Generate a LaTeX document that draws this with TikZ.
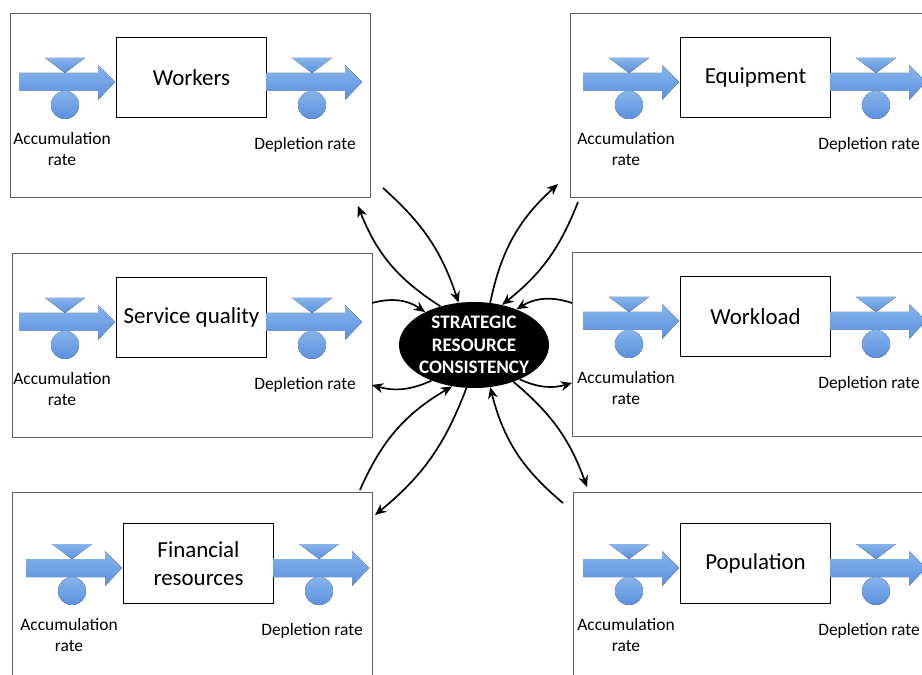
\documentclass[tikz,border=0pt]{standalone}
\usepackage{fontspec}
\setmainfont{Carlito}
\usetikzlibrary{arrows.meta,shapes.geometric}

\definecolor{flowlight}{RGB}{135,180,236}
\definecolor{flowdark}{RGB}{92,144,222}
\definecolor{panelgray}{RGB}{95,95,95}

\tikzset{
  panel/.style={draw=panelgray, line width=0.8pt, fill=white, anchor=north west,
    minimum width=9cm, minimum height=4.6cm, inner sep=0pt},
  stock/.style={draw=black, line width=0.7pt, fill=white, anchor=north west,
    minimum width=3.75cm, minimum height=2cm, align=center,
    font=\fontsize{16.3}{19.5}\selectfont},
  pipe/.style={top color=flowlight, bottom color=flowdark},
  ratelabel/.style={align=center, inner sep=0pt, font=\fontsize{12.4}{15.6}\selectfont},
  core/.style={ellipse, fill=black, minimum width=3.75cm, minimum height=2.15cm, inner sep=0pt},
  coretext/.style={align=center, text=white, inner sep=0pt,
    font=\bfseries\fontsize{13.6}{16}\selectfont},
  link/.style={-{Stealth[length=8pt,width=7pt]}, line width=1.2pt},
}

\begin{document}
\begin{tikzpicture}[x=0.025cm,y=-0.025cm]
  \useasboundingbox (0,0) rectangle (922,675);
  \clip (0,0) rectangle (922,675);

  %% six stock panels: stock box, inflow and outflow with their valves
  \foreach \bx/\by/\ox/\oy/\nm/\ttl in {
      116/37/10/13/workers/Workers,
      680/37/570/13/equip/Equipment,
      116/277/12/253/service/Service quality,
      680/276/572/252/workload/Workload,
      123/523/12/492/finance/{Financial\\resources},
      680/523/573/492/popul/Population} {
    \node[panel] (\nm-panel) at (\ox,\oy) {};
    \node[stock] (\nm) at (\bx,\by) {\ttl};
    \begin{scope}[shift={(\bx,\by)}]
      \foreach \dx in {0,247} {
        % pipe arrow
        \fill[pipe] (\dx-97,36) -- (\dx-18,36) -- (\dx-18,28) -- (\dx-1,45)
          -- (\dx-18,63) -- (\dx-18,54) -- (\dx-97,54) -- cycle;
        % valve
        \fill[pipe] (\dx-71,21) -- (\dx-31,21) -- (\dx-51,36) -- cycle;
        \fill[pipe] (\dx-51,68) circle[radius=0.35cm];
      }
      \node[ratelabel] (\nm-acc) at (-54,112) {Accumulation\\rate};
      \node[ratelabel] (\nm-dep) at (189,108) {Depletion rate};
    \end{scope}
  }

  %% centre
  \node[core] (core) at (474,345) {};
  \node[coretext] (coretitle) at (core) {STRATEGIC\\RESOURCE\\CONSISTENCY};

  %% loose ends next to the panels
  \coordinate (wk-a) at (383,188);
  \coordinate (wk-b) at (358,206);
  \coordinate (eq-a) at (558,184);
  \coordinate (eq-b) at (578,202);
  \coordinate (sq-a) at (372,303);
  \coordinate (sq-b) at (372,385);
  \coordinate (wl-a) at (572,303);
  \coordinate (wl-b) at (572,383);
  \coordinate (fin-a) at (360,490);
  \coordinate (fin-b) at (375,515);
  \coordinate (pop-a) at (587,487);
  \coordinate (pop-b) at (563,503);

  %% links
  \draw[link] (wk-a) to[bend left=15] (core.110);
  \draw[link] (core.131) to[bend left=18] (wk-b);
  \draw[link] (core.69) to[bend left=18] (eq-a);
  \draw[link] (eq-b) to[bend left=15] (core.55);
  \draw[link] (sq-a) to[bend left=25] (core.146);
  \draw[link] (core.220) to[bend left=20] (sq-b);
  \draw[link] (wl-a) to[bend right=25] (core.40);
  \draw[link] (core.-37) to[bend right=20] (wl-b);
  \draw[link] (fin-a) to[bend left=18] (core.242);
  \draw[link] (core.260) to[bend left=15] (fin-b);
  \draw[link] (core.-43) to[bend left=15] (pop-a);
  \draw[link] (pop-b) to[bend left=18] (core.-69);
\end{tikzpicture}
\end{document}
